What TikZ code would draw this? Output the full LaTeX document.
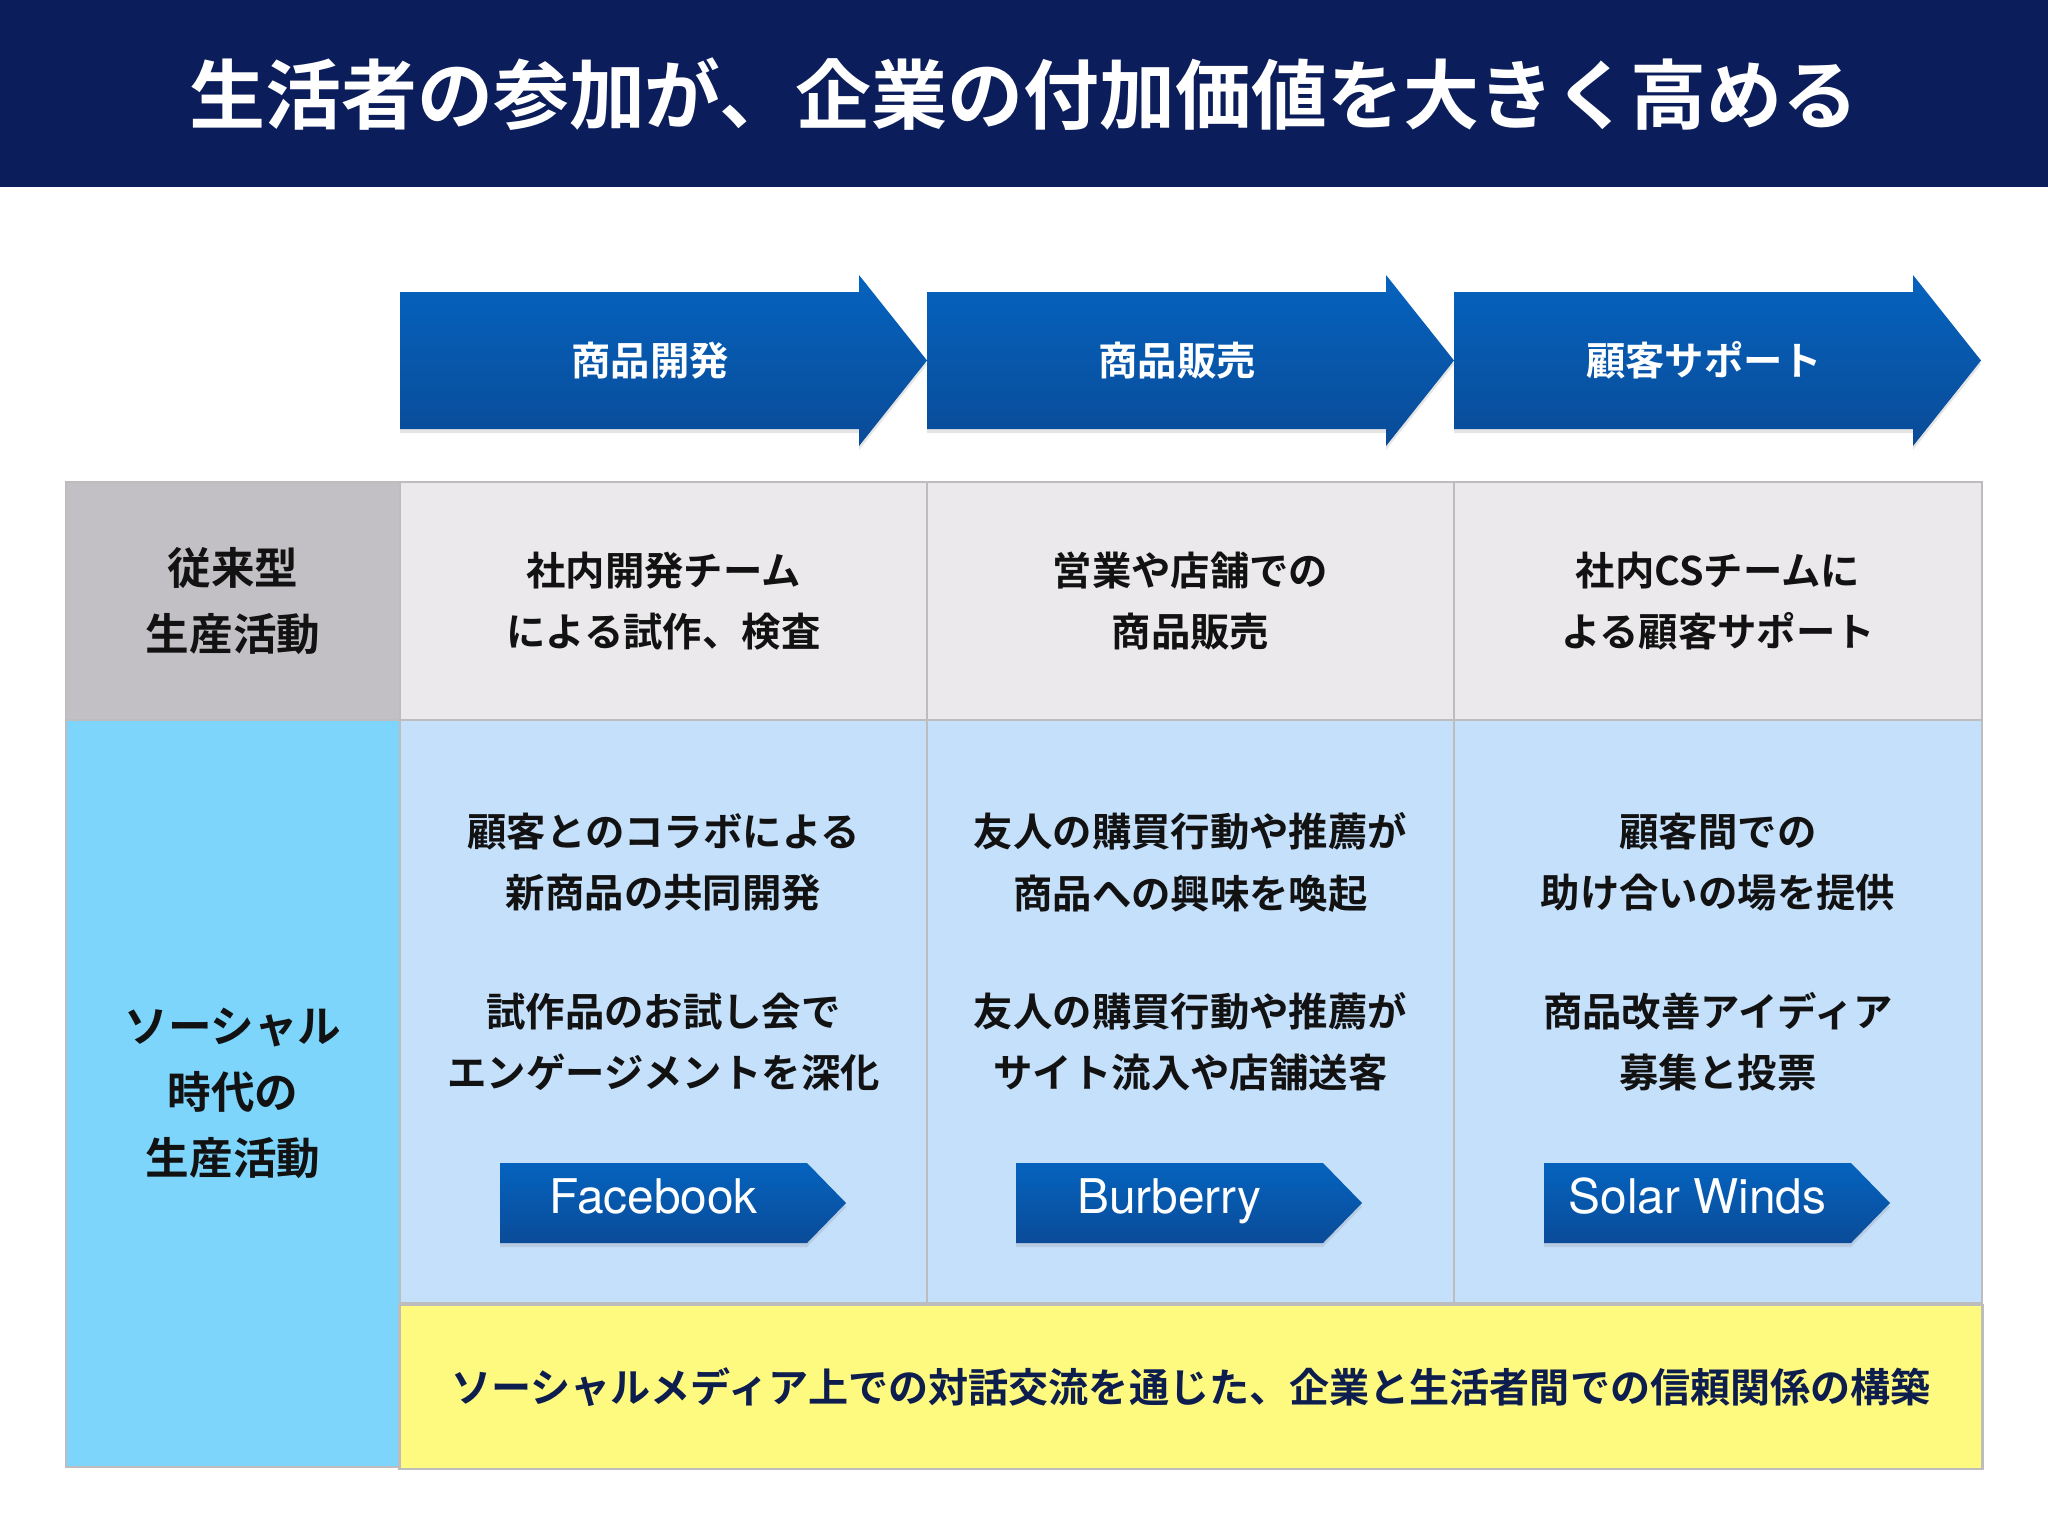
\documentclass[tikz,border=0pt]{standalone}
\usepackage{fontspec}
\setmainfont{Noto Sans CJK JP}[BoldFont={Noto Sans CJK JP Bold}]
\newfontfamily\brandfont{TeX Gyre Heros}
\usetikzlibrary{shadows}

\definecolor{titlenavy}{HTML}{0B1D5A}
\definecolor{arrowtop}{HTML}{0563BE}
\definecolor{arrowbot}{HTML}{0A4B98}
\definecolor{oldgrey}{HTML}{C2C0C4}
\definecolor{oldcell}{HTML}{EBE9EC}
\definecolor{newcyan}{HTML}{7DD5FB}
\definecolor{newcell}{HTML}{C5E0FB}
\definecolor{trustyellow}{HTML}{FEF97F}
\definecolor{gridgrey}{HTML}{BDBDBD}
\definecolor{textnavy}{HTML}{0C1D4E}

\tikzset{
  cell/.style={draw=gridgrey, line width=0.6pt, inner sep=0pt, text=black!93,
    align=center, font=\fontsize{11.2}{17.4}\selectfont\bfseries},
  headcell/.style={cell, font=\fontsize{12.4}{18.8}\selectfont\bfseries},
  celltext/.style={align=center, inner sep=0pt, text=black!93,
    font=\fontsize{11.2}{17.4}\selectfont\bfseries},
  stagefill/.style={top color=arrowtop, bottom color=arrowbot,
    drop shadow={shadow xshift=0pt, shadow yshift=-0.4mm, opacity=0.2}},
  stagetext/.style={text=white, inner sep=0pt, font=\fontsize{11.2}{14}\selectfont\bfseries},
  brandfill/.style={top color=arrowtop, bottom color=arrowbot,
    drop shadow={shadow xshift=0pt, shadow yshift=-0.4mm, opacity=0.2}},
  brandtext/.style={text=white, inner sep=0pt, anchor=base, font=\brandfont\fontsize{13.6}{16}\selectfont},
}

% #1 name, #2 left edge, #3 label
\newcommand{\stagearrow}[3]{%
  \path[stagefill] (#2,292) -- ++(459,0) -- ++(0,-17) -- ++(68,85.5)
    -- ++(-68,85.5) -- ++(0,-17) -- ++(-459,0) -- cycle;
  \node[stagetext, xshift=2.5cm] (#1) at (#2,360.5) {#3};
}
\newcommand{\brandarrow}[3]{%
  \path[brandfill] (#2,1163) -- ++(307,0) -- ++(39,40) -- ++(-39,40)
    -- ++(-307,0) -- cycle;
  \node[brandtext, xshift=1.535cm] (#1) at (#2,1213) {#3};
}

\begin{document}
\begin{tikzpicture}[x=0.01cm, y=-0.01cm]
    \useasboundingbox (0,0) rectangle (2048,1536);
    \fill[white] (0,0) rectangle (2048,1536);

    % Title bar
    \fill[titlenavy] (0,0) rectangle (2048,187);
    \node[text=white, font=\fontsize{21.6}{26}\selectfont\bfseries] (title) at (1024,94)
        {生活者の参加が、企業の付加価値を大きく高める};

    % Value chain stages
    \stagearrow{dev}{400}{商品開発}
    \stagearrow{sales}{927}{商品販売}
    \stagearrow{support}{1454}{顧客サポート}

    % Row headers
    \node[headcell, fill=oldgrey, minimum width=3.34cm, minimum height=2.38cm] (oldhead) at (233,601)
        {従来型\\生産活動};
    \node[headcell, fill=newcyan, minimum width=3.34cm, minimum height=7.47cm] (newhead) at (233,1093.5)
        {ソーシャル\\時代の\\生産活動};

    % Traditional row
    \node[cell, fill=oldcell, minimum width=5.27cm, minimum height=2.38cm] (olddev) at (663.5,601)
        {社内開発チーム\\による試作、検査};
    \node[cell, fill=oldcell, minimum width=5.27cm, minimum height=2.38cm] (oldsales) at (1190.5,601)
        {営業や店舗での\\商品販売};
    \node[cell, fill=oldcell, minimum width=5.28cm, minimum height=2.38cm] (oldsupport) at (1718,601)
        {社内CSチームに\\よる顧客サポート};

    % Social row
    \node[cell, fill=newcell, minimum width=5.27cm, minimum height=5.83cm] (newdev) at (663.5,1011.5) {};
    \node[cell, fill=newcell, minimum width=5.27cm, minimum height=5.83cm] (newsales) at (1190.5,1011.5) {};
    \node[cell, fill=newcell, minimum width=5.28cm, minimum height=5.83cm] (newsupport) at (1718,1011.5) {};

    \node[celltext] (devtop) at (663.5,862.5) {顧客とのコラボによる\\新商品の共同開発};
    \node[celltext] (devbot) at (663.5,1042) {試作品のお試し会で\\エンゲージメントを深化};
    \node[celltext] (salestop) at (1190.5,862.5) {友人の購買行動や推薦が\\商品への興味を喚起};
    \node[celltext] (salesbot) at (1190.5,1042) {友人の購買行動や推薦が\\サイト流入や店舗送客};
    \node[celltext] (supporttop) at (1718,862.5) {顧客間での\\助け合いの場を提供};
    \node[celltext] (supportbot) at (1718,1042) {商品改善アイディア\\募集と投票};

    % Example companies
    \brandarrow{facebook}{500}{Facebook}
    \brandarrow{burberry}{1016}{Burberry}
    \brandarrow{solarwinds}{1544}{Solar Winds}

    % Trust band
    \node[cell, fill=trustyellow, text=textnavy, minimum width=15.82cm, minimum height=1.64cm,
        font=\fontsize{11.4}{14}\selectfont\bfseries] (trust) at (1191,1387)
        {ソーシャルメディア上での対話交流を通じた、企業と生活者間での信頼関係の構築};
\end{tikzpicture}
\end{document}
